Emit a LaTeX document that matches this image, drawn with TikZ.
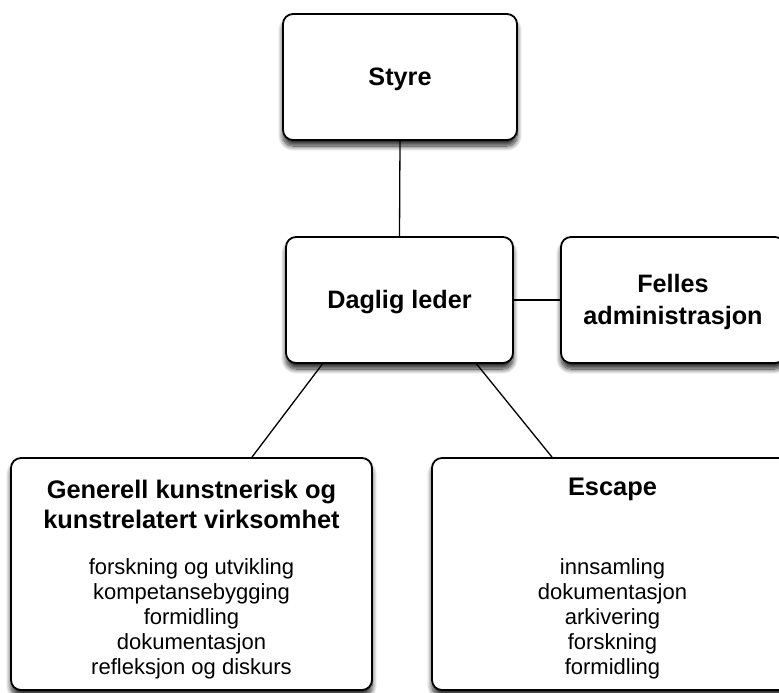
\documentclass[tikz,border=0pt]{standalone}
\usepackage{fontspec}
\setmainfont{Liberation Sans}
\usetikzlibrary{shadows.blur}
\begin{document}
\begin{tikzpicture}[x=1pt,y=-1pt,
  box/.style={draw=black, line width=1.8pt, rounded corners=10pt, fill=white,
    blur shadow={shadow xshift=0pt, shadow yshift=-6pt, shadow blur steps=12,
      shadow opacity=85, shadow blur radius=5pt}},
  conn/.style={line width=1.3pt, draw=black},
  bigb/.style={font=\fontsize{25.2}{32}\selectfont\bfseries, align=center, inner sep=0pt},
  headb/.style={font=\fontsize{25.4}{30}\selectfont\bfseries, align=center, inner sep=0pt},
  small/.style={font=\fontsize{22}{25}\selectfont, align=center, inner sep=0pt}]
\useasboundingbox (0,0) rectangle (779,693);
\clip (0,0) rectangle (779,693);

\node[box, minimum width=234pt, minimum height=126pt] (styre) at (400,77) {};
\node[bigb] (styret) at (400,79) {Styre};

\node[box, minimum width=227pt, minimum height=126pt] (daglig) at (399.5,300) {};
\node[bigb] (dagligt) at (399.5,302) {Daglig leder};

\node[box, minimum width=224pt, minimum height=126pt] (felles) at (673,300) {};
\node[bigb] (fellest) at (673,302) {Felles\\administrasjon};

\node[box, minimum width=361pt, minimum height=232pt] (gen) at (191.5,574) {};
\node[headb] (genh) at (191.5,504) {Generell kunstnerisk og\\kunstrelatert virksomhet};
\node[small] (genl) at (191.5,619) {forskning og utvikling\\kompetansebygging\\formidling\\dokumentasjon\\refleksjon og diskurs};

\node[box, minimum width=361pt, minimum height=232pt] (esc) at (612.5,574) {};
\node[headb] (esch) at (612.5,489) {Escape};
\node[small] (escl) at (612.5,619) {innsamling\\dokumentasjon\\arkivering\\forskning\\formidling};

\draw[conn] (styre.south) -- (daglig.north);
\draw[conn] (daglig.east) -- (felles.west);
\draw[conn] ([xshift=-77pt]daglig.south) -- ([xshift=60.5pt]gen.north);
\draw[conn] ([xshift=77pt]daglig.south) -- ([xshift=-60.5pt]esc.north);
\end{tikzpicture}
\end{document}
